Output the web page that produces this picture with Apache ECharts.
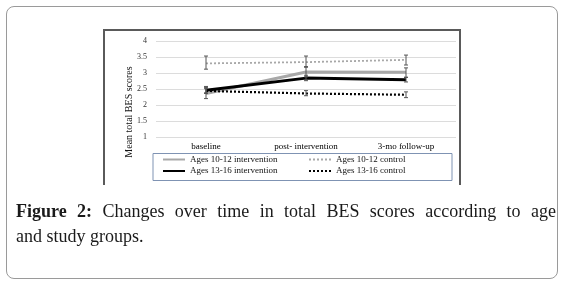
<!DOCTYPE html>
<html>
<head>
<meta charset="utf-8">
<script src="https://cdn.jsdelivr.net/npm/echarts@6/dist/echarts.min.js"></script>
<style>
html,body{margin:0;padding:0;background:#fff;width:574px;height:294px;overflow:hidden;}
#frame{position:absolute;left:6px;top:6px;width:550px;height:271px;border:1.5px solid #9a9a9a;border-radius:8px;}
#inner{position:absolute;left:103px;top:29px;width:354px;height:154px;border:2px solid #5a5a5a;border-bottom:none;}
#chart{position:absolute;left:0;top:0;width:574px;height:294px;}
.cap{position:absolute;left:16px;width:540px;font-family:"Liberation Serif",serif;font-size:18px;color:#1a1a1a;white-space:nowrap;}
#cap1{top:201px;text-align:justify;text-align-last:justify;}
#cap2{top:226px;}
</style>
</head>
<body>
<div id="frame"></div>
<div id="inner"></div>
<div id="chart"></div>
<div class="cap" id="cap1"><b>Figure 2:</b> Changes over time in total BES scores according to age</div>
<div class="cap" id="cap2">and study groups.</div>
<script>
var categories = ['baseline', 'post- intervention', '3-mo follow-up'];
var yTicks = [1, 1.5, 2, 2.5, 3, 3.5, 4];

var int1012 = [2.36, 3.03, 3.02];
var int1012Low = [2.20, 2.88, 2.86];
var int1012High = [2.55, 3.20, 3.16];

var int1316 = [2.46, 2.84, 2.79];
var int1316Low = [2.38, 2.76, 2.72];
var int1316High = [2.58, 2.93, 2.87];

var ctl1012 = [3.30, 3.34, 3.41];
var ctl1012Low = [3.12, 3.18, 3.25];
var ctl1012High = [3.53, 3.53, 3.56];

var ctl1316 = [2.44, 2.36, 2.32];
var ctl1316Low = [2.36, 2.29, 2.23];
var ctl1316High = [2.51, 2.45, 2.41];

var names = ['Ages 10-12 intervention', 'Ages 13-16 intervention', 'Ages 10-12 control', 'Ages 13-16 control'];

function errData(low, high) {
  return low.map(function (l, i) { return [i, l, high[i]]; });
}
function errSeries(low, high) {
  return {
    type: 'custom',
    data: errData(low, high),
    z: 5,
    silent: true,
    renderItem: function (params, api) {
      var top = api.coord([api.value(0), api.value(2)]);
      var bot = api.coord([api.value(0), api.value(1)]);
      var cw = 2;
      var st = { stroke: '#555', lineWidth: 1 };
      return {
        type: 'group',
        children: [
          { type: 'line', shape: { x1: top[0], y1: top[1], x2: bot[0], y2: bot[1] }, style: st },
          { type: 'line', shape: { x1: top[0] - cw, y1: top[1], x2: top[0] + cw, y2: top[1] }, style: st },
          { type: 'line', shape: { x1: bot[0] - cw, y1: bot[1], x2: bot[0] + cw, y2: bot[1] }, style: st }
        ]
      };
    }
  };
}

var chart = echarts.init(document.getElementById('chart'), null, { renderer: 'canvas' });
var serif = '"Liberation Serif", serif';
var legendCommon = {
  orient: 'vertical',
  top: 155,
  padding: 0, itemGap: 2.5,
  itemWidth: 22, itemHeight: 10,
  itemStyle: { opacity: 0 },
  textStyle: { fontFamily: serif, fontSize: 9, color: '#111' }
};
chart.setOption({
  animation: false,
  grid: { left: 156, right: 118, top: 41, bottom: 157 },
  xAxis: {
    type: 'category',
    data: categories,
    boundaryGap: true,
    axisLine: { show: false },
    axisTick: { show: false },
    axisLabel: { margin: 5, fontFamily: serif, fontSize: 9, color: '#000' }
  },
  yAxis: {
    type: 'value',
    min: yTicks[0],
    max: yTicks[yTicks.length - 1],
    interval: 0.5,
    axisLine: { show: false },
    axisTick: { show: false },
    axisLabel: { margin: 9, fontFamily: serif, fontSize: 8, color: '#333' },
    splitLine: { lineStyle: { color: '#dcdcdc', width: 1 } }
  },
  legend: [
    Object.assign({ data: [names[0], names[1]], left: 162 }, legendCommon),
    Object.assign({ data: [names[2], names[3]], left: 308 }, legendCommon)
  ],
  graphic: [
    { type: 'rect', shape: { x: 153, y: 153.5, width: 299, height: 27 }, style: { fill: 'none', stroke: '#7f93b3', lineWidth: 1 } },
    { type: 'text', x: 129, y: 112, rotation: Math.PI / 2, style: { text: 'Mean total BES scores', fontFamily: serif, fontSize: 10, fill: '#111', textAlign: 'center', textVerticalAlign: 'middle' } }
  ],
  series: [
    { name: names[0], type: 'line', data: int1012, symbol: 'none', z: 3, lineStyle: { color: '#a8a8a8', width: 3 }, itemStyle: { color: '#a8a8a8' } },
    { name: names[2], type: 'line', data: ctl1012, symbol: 'none', z: 3, lineStyle: { color: '#a8a8a8', width: 1.8, type: [2, 2] }, itemStyle: { color: '#a8a8a8' } },
    { name: names[3], type: 'line', data: ctl1316, symbol: 'none', z: 3, lineStyle: { color: '#000', width: 2.2, type: [2, 2] }, itemStyle: { color: '#000' } },
    { name: names[1], type: 'line', data: int1316, symbol: 'none', z: 4, lineStyle: { color: '#000', width: 3 }, itemStyle: { color: '#000' } },
    errSeries(int1012Low, int1012High),
    errSeries(int1316Low, int1316High),
    errSeries(ctl1012Low, ctl1012High),
    errSeries(ctl1316Low, ctl1316High)
  ]
});
</script>
</body>
</html>
